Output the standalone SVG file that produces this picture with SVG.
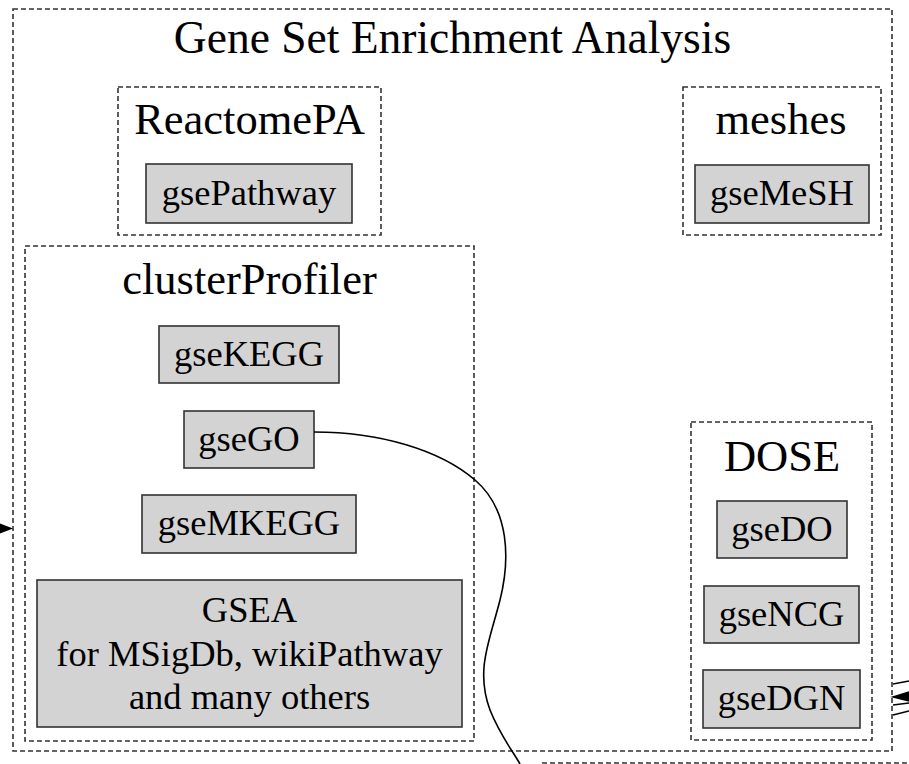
<svg xmlns="http://www.w3.org/2000/svg" width="909" height="764" viewBox="0 0 909 764">
<defs>
<style>
.cl{fill:none;stroke:#333;stroke-width:1.6;stroke-dasharray:5,3}
.nd{fill:#d3d3d3;stroke:#333;stroke-width:1.6}
.ct{font-family:"Liberation Serif","Times New Roman",serif;font-size:44.5px;fill:#000;text-anchor:middle}
.nt{font-family:"Liberation Serif","Times New Roman",serif;font-size:36.5px;fill:#000;text-anchor:middle}
.ed{fill:none;stroke:#000;stroke-width:1.6}
</style>
</defs>
<rect width="909" height="764" fill="#fff"/>
<g id="cluster-gsea">
<rect class="cl" x="13" y="9" width="879" height="742"/>
<text class="ct" x="452.5" y="53" style="font-size:45.5px">Gene Set Enrichment Analysis</text>
</g>
<g id="cluster-other">
<rect class="cl" x="542" y="763" width="400" height="60"/>
</g>
<g id="cluster-reactomepa">
<rect class="cl" x="118" y="87" width="263" height="148"/>
<text class="ct" x="249.5" y="134">ReactomePA</text>
</g>
<g id="node-gsePathway">
<rect class="nd" x="146" y="164" width="206" height="59"/>
<text class="nt" x="249" y="205">gsePathway</text>
</g>
<g id="cluster-meshes">
<rect class="cl" x="683" y="87" width="198" height="148"/>
<text class="ct" x="781" y="134">meshes</text>
</g>
<g id="node-gseMeSH">
<rect class="nd" x="695" y="165" width="174" height="58"/>
<text class="nt" x="782" y="205">gseMeSH</text>
</g>
<g id="cluster-clusterprofiler">
<rect class="cl" x="25" y="246" width="449" height="495"/>
<text class="ct" x="249.5" y="294">clusterProfiler</text>
</g>
<g id="node-gseKEGG">
<rect class="nd" x="159" y="326" width="180" height="57"/>
<text class="nt" x="249" y="366">gseKEGG</text>
</g>
<g id="node-gseGO">
<rect class="nd" x="184" y="411" width="130" height="57"/>
<text class="nt" x="249" y="451">gseGO</text>
</g>
<g id="node-gseMKEGG">
<rect class="nd" x="142" y="495" width="214" height="58"/>
<text class="nt" x="249" y="535">gseMKEGG</text>
</g>
<g id="node-GSEA">
<rect class="nd" x="37" y="580" width="425" height="147"/>
<text class="nt" x="249.5" y="622">GSEA</text>
<text class="nt" x="249.5" y="666">for MSigDb, wikiPathway</text>
<text class="nt" x="249.5" y="709">and many others</text>
</g>
<g id="cluster-dose">
<rect class="cl" x="691" y="422" width="181" height="318"/>
<text class="ct" x="782" y="471">DOSE</text>
</g>
<g id="node-gseDO">
<rect class="nd" x="717" y="501" width="130" height="57"/>
<text class="nt" x="782" y="541">gseDO</text>
</g>
<g id="node-gseNCG">
<rect class="nd" x="704" y="586" width="155" height="57"/>
<text class="nt" x="781.5" y="626">gseNCG</text>
</g>
<g id="node-gseDGN">
<rect class="nd" x="703" y="670" width="157" height="58"/>
<text class="nt" x="781.5" y="710">gseDGN</text>
</g>
<g id="edges">
<path class="ed" d="M314,432 C380,432 440,450 475,480 C510,510 510,560 500,600 C490,640 475,670 490,710 C500,735 512,750 520,764"/>
<polygon points="-1,523 13,528.5 -1,534" fill="#000"/>
<path class="ed" d="M893,684 L909,681 M893,705 L909,703 M893,715 L909,711"/>
<polygon points="893,697 909,692 909,701" fill="#000" stroke="#000" stroke-width="1.5"/>
</g>
</svg>
